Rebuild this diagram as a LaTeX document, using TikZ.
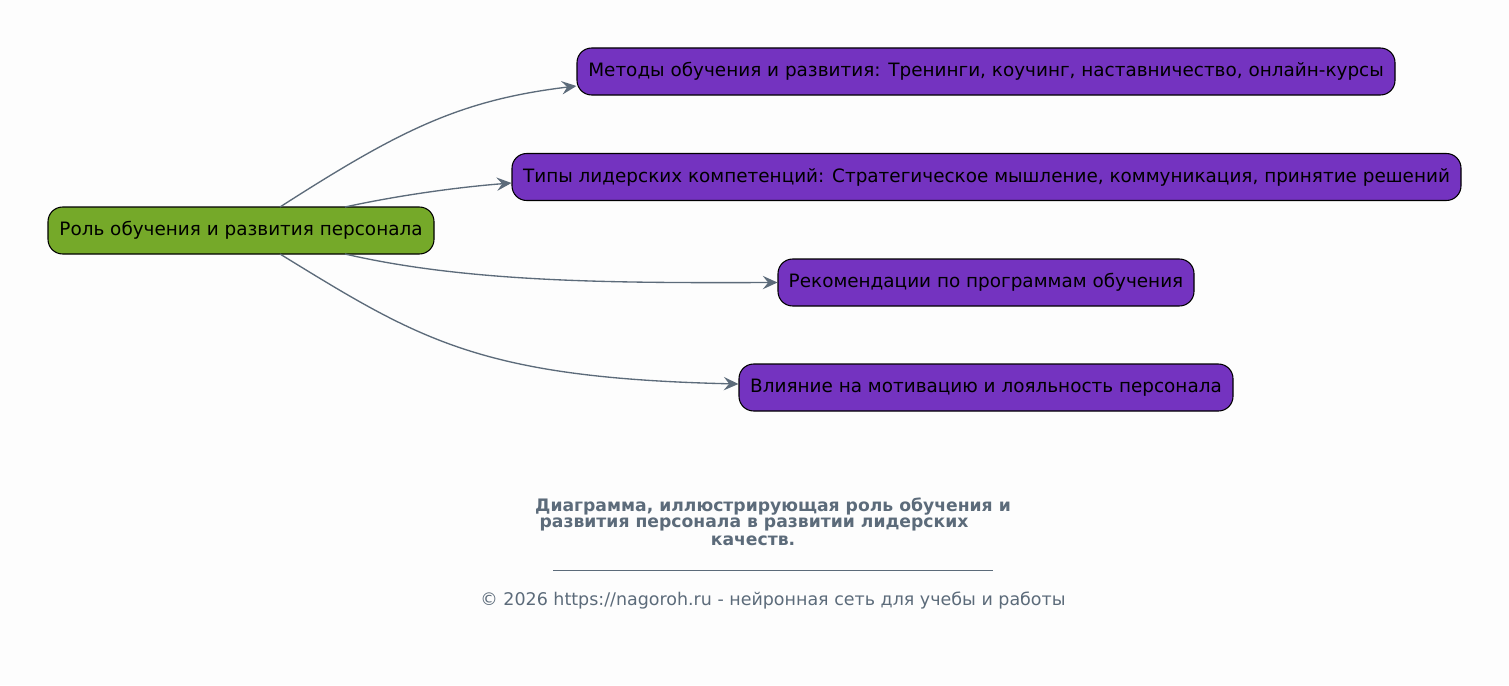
\documentclass[tikz,border=0pt]{standalone}
\usepackage{fontspec}
\setmainfont{DejaVu Sans}
\usetikzlibrary{arrows.meta}
\definecolor{bg}{HTML}{FDFDFD}
\definecolor{leafc}{HTML}{7433C0}
\definecolor{rootc}{HTML}{75A929}
\definecolor{edgec}{HTML}{5C6B7A}
\begin{document}
\begin{tikzpicture}[x=0.75pt,y=-0.75pt,
  box/.style={draw=black, line width=0.8pt, rounded corners=11pt, minimum height=35.25pt, inner sep=0pt, font=\fontsize{13.8}{16}\selectfont, text=black},
  conn/.style={draw=edgec, line width=1pt, -{Stealth[length=11pt,width=10pt,inset=4pt]}},
  captext/.style={text=edgec, font=\bfseries\fontsize{12.9}{15}\selectfont},
  foot/.style={text=edgec, font=\fontsize{13.1}{15}\selectfont}]
\fill[bg] (0,0) rectangle (1509,685);
\useasboundingbox (0,0) rectangle (1509,685);
\node[box, fill=rootc, minimum width=289.5pt] (root) at (241,230.5) {Роль обучения и развития персонала};
\node[box, fill=leafc, minimum width=613.5pt] (m1) at (986,71.5) {Методы обучения и развития: Тренинги, коучинг, наставничество, онлайн-курсы};
\node[box, fill=leafc, minimum width=711.75pt] (m2) at (986.5,177) {Типы лидерских компетенций: Стратегическое мышление, коммуникация, принятие решений};
\node[box, fill=leafc, minimum width=312pt] (m3) at (986,282.5) {Рекомендации по программам обучения};
\node[box, fill=leafc, minimum width=370.5pt] (m4) at (986,387.5) {Влияние на мотивацию и лояльность персонала};
\coordinate (r1) at (280,207);
\coordinate (r2) at (345,207);
\coordinate (r3) at (345,254);
\coordinate (r4) at (280,254);
\draw[conn] (r1) .. controls (400,130) and (460,100) .. (m1.west |- 0,86);
\draw[conn] (r2) .. controls (400,195) and (460,187) .. (m2.west |- 0,183);
\draw[conn] (r3) .. controls (470,283) and (620,283) .. (m3.west);
\draw[conn] (r4) .. controls (420,340) and (480,378) .. (m4.west |- 0,384);
\node[captext] (c1) at (773,507) {Диаграмма, иллюстрирующая роль обучения и};
\node[captext] (c2) at (754,524) {развития персонала в развитии лидерских};
\node[captext] (c3) at (753,541) {качеств.};
\coordinate (l1) at (553,570);
\coordinate (l2) at (993,570);
\draw[edgec, line width=0.6pt] (l1) -- (l2);
\node[foot] (f) at (773,601) {© 2026 https://nagoroh.ru - нейронная сеть для учебы и работы};
\end{tikzpicture}
\end{document}
